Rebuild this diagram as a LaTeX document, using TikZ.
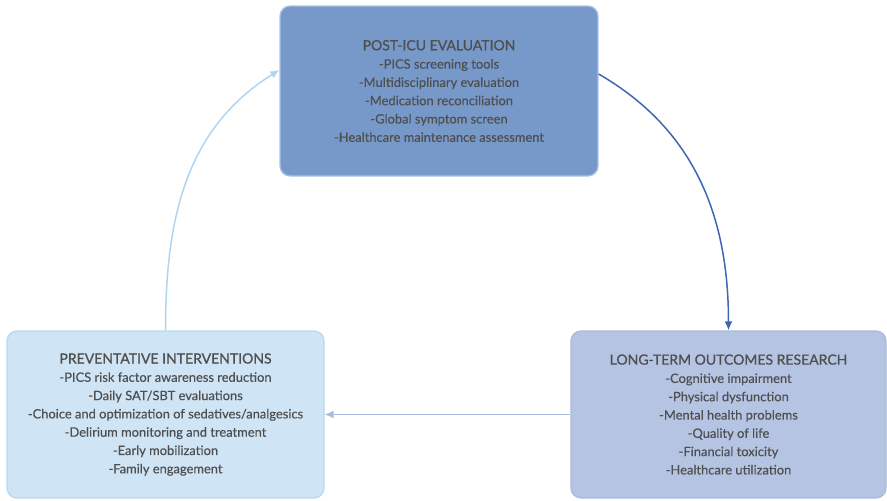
\documentclass[tikz,border=0pt]{standalone}
\usepackage{fontspec}
\setmainfont{Lato}
\newfontfamily\boxfont{Lato}[UprightFeatures={FakeBold=0.3}]
\newfontfamily\ttlfont{Lato}[UprightFeatures={FakeBold=0.9}]
\usepackage{tikz}
\usetikzlibrary{arrows.meta,positioning}

\definecolor{evalfill}{HTML}{7699C9}
\definecolor{evalline}{HTML}{A9C4E6}
\definecolor{prevfill}{HTML}{CFE4F5}
\definecolor{prevline}{HTML}{B7D8EF}
\definecolor{outcfill}{HTML}{B4C4E2}
\definecolor{outcline}{HTML}{A9BBDD}
\definecolor{arrowdark}{HTML}{3E66B3}
\definecolor{arrowlight}{HTML}{B0D5F1}
\definecolor{txtgrey}{HTML}{4F4F4F}

\newcommand{\boxtitle}[1]{{\ttlfont\fontsize{14}{18.3}\selectfont #1}}

\begin{document}
\begin{tikzpicture}[x=1pt,y=-1pt,
  box/.style={rounded corners=10pt, line width=1.2pt, align=center, inner sep=0pt,
    text=txtgrey, font=\boxfont\fontsize{12.9}{18.3}\selectfont},
  link/.style={line width=1.5pt, -{Latex[length=9pt,width=8pt]}}]
\useasboundingbox (0,0) rectangle (887,501);

\node[box, fill=evalfill, draw=evalline, minimum width=318pt, minimum height=170pt] (eval) at (439,91)
  {\boxtitle{POST-ICU EVALUATION}\\
   -PICS screening tools\\ -Multidisciplinary evaluation\\ -Medication reconciliation\\
   -Global symptom screen\\ -Healthcare maintenance assessment};
\node[box, fill=prevfill, draw=prevline, minimum width=317pt, minimum height=167pt] (prev) at (165.5,414.5)
  {\boxtitle{PREVENTATIVE INTERVENTIONS}\\
   -PICS risk factor awareness reduction\\ -Daily SAT/SBT evaluations\\
   -Choice and optimization of sedatives/analgesics\\ -Delirium monitoring and treatment\\
   -Early mobilization\\ -Family engagement};
\node[box, fill=outcfill, draw=outcline, minimum width=315pt, minimum height=167pt] (outc) at (728.5,414.5)
  {\boxtitle{LONG-TERM OUTCOMES RESEARCH}\\
   -Cognitive impairment\\ -Physical dysfunction\\ -Mental health problems\\
   -Quality of life\\ -Financial toxicity\\ -Healthcare utilization};

% cycle arrows
\draw[link, draw=arrowlight] (prev.north) to[out=90,in=212] ([yshift=21pt]eval.west);
\draw[link, draw=arrowdark] ([yshift=17pt]eval.east) to[out=-30,in=90] (outc.north);
\draw[link, draw=outcline] (outc.west) -- (prev.east);
\end{tikzpicture}
\end{document}
